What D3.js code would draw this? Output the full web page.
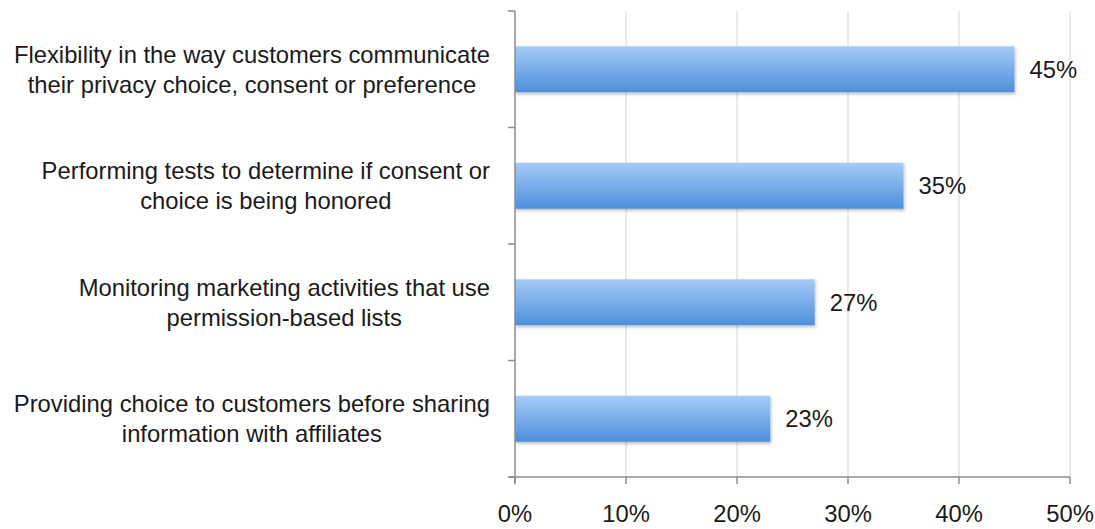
<!DOCTYPE html>
<html>
<head>
<meta charset="utf-8">
<script src="https://cdn.jsdelivr.net/npm/d3@7/dist/d3.min.js"></script>
<style>
  html, body { margin: 0; padding: 0; background: #fff; }
  svg { display: block; font-family: "Liberation Sans", Arial, sans-serif; }
</style>
</head>
<body>
<svg id="chart" width="1095" height="529"></svg>
<script>
// Survey responses (share of respondents)
const categories = [
  ["Flexibility in the way customers communicate", "their privacy choice, consent or preference"],
  ["Performing tests to determine if consent or", "choice is being honored"],
  ["Monitoring marketing activities that use", "permission-based lists"],
  ["Providing choice to customers before sharing", "information with affiliates"]
];
const values = [45, 35, 27, 23];
const valueLabels = ["45%", "35%", "27%", "23%"];
const tickValues = [0, 10, 20, 30, 40, 50];
const tickLabels = ["0%", "10%", "20%", "30%", "40%", "50%"];

const svg = d3.select("#chart");
const margin = { top: 11, right: 25, bottom: 52, left: 515 };
const W = 1095, H = 529;
const innerW = W - margin.left - margin.right;
const innerH = H - margin.top - margin.bottom;
const FONT = 23.8;

const x = d3.scaleLinear().domain([0, 50]).range([0, innerW]);
const yBand = d3.scaleBand().domain(d3.range(categories.length)).range([0, innerH]);

const defs = svg.append("defs");
const grad = defs.append("linearGradient").attr("id", "barGrad")
  .attr("x1", 0).attr("y1", 0).attr("x2", 0).attr("y2", 1);
grad.append("stop").attr("offset", "0%").attr("stop-color", "#a6cbf7");
grad.append("stop").attr("offset", "100%").attr("stop-color", "#4d8fdb");

const shadow = defs.append("filter").attr("id", "barShadow")
  .attr("x", "-5%").attr("y", "-20%").attr("width", "110%").attr("height", "150%");
shadow.append("feDropShadow").attr("dx", 1).attr("dy", 2).attr("stdDeviation", 1.5)
  .attr("flood-color", "#000").attr("flood-opacity", 0.25);

const g = svg.append("g").attr("transform", `translate(${margin.left},${margin.top})`);

// vertical gridlines
g.selectAll(".grid").data(tickValues.filter(d => d > 0)).enter().append("line")
  .attr("x1", d => x(d)).attr("x2", d => x(d))
  .attr("y1", 0).attr("y2", innerH)
  .attr("stroke", "#dcdcdc").attr("stroke-width", 1.2);

// bars
g.selectAll(".bar").data(values).enter().append("rect")
  .attr("x", 0)
  .attr("y", (d, i) => yBand(i) + yBand.bandwidth() / 2 - 23)
  .attr("width", d => x(d))
  .attr("height", 46)
  .attr("fill", "url(#barGrad)")
  .attr("filter", "url(#barShadow)");

// value labels
g.selectAll(".val").data(values).enter().append("text")
  .attr("x", d => x(d) + 15)
  .attr("y", (d, i) => yBand(i) + yBand.bandwidth() / 2)
  .attr("dy", "0.35em")
  .attr("font-size", FONT)
  .attr("fill", "#1a1a1a")
  .text((d, i) => valueLabels[i]);

// x axis
const xAxis = g.append("g").attr("transform", `translate(0,${innerH})`);
xAxis.append("line").attr("x1", -6).attr("x2", innerW).attr("y1", 0).attr("y2", 0)
  .attr("stroke", "#8c8c8c").attr("stroke-width", 1.5);
xAxis.selectAll(".tick").data(tickValues).enter().append("line")
  .attr("x1", d => x(d)).attr("x2", d => x(d)).attr("y1", 0).attr("y2", 7)
  .attr("stroke", "#8c8c8c").attr("stroke-width", 1.5);
xAxis.selectAll(".tl").data(tickValues).enter().append("text")
  .attr("x", d => x(d)).attr("y", 45)
  .attr("text-anchor", "middle")
  .attr("font-size", FONT)
  .attr("fill", "#1a1a1a")
  .text((d, i) => tickLabels[i]);

// y axis
const yAxis = g.append("g");
yAxis.append("line").attr("x1", 0).attr("x2", 0).attr("y1", 0).attr("y2", innerH + 7)
  .attr("stroke", "#8c8c8c").attr("stroke-width", 1.5);
yAxis.selectAll(".tick").data(d3.range(categories.length + 1)).enter().append("line")
  .attr("x1", -7).attr("x2", 0)
  .attr("y1", d => d * yBand.step()).attr("y2", d => d * yBand.step())
  .attr("stroke", "#8c8c8c").attr("stroke-width", 1.5);

// category labels: lines centred, block right-aligned against the axis
categories.forEach((lines, i) => {
  const cy = yBand(i) + yBand.bandwidth() / 2;
  const grp = g.append("g");
  const texts = lines.map((t, k) => grp.append("text")
    .attr("y", cy + (k - (lines.length - 1) / 2) * 30)
    .attr("dy", "0.35em")
    .attr("font-size", FONT)
    .attr("fill", "#1a1a1a")
    .attr("text-anchor", "middle")
    .text(t));
  const maxW = d3.max(texts, t => t.node().getComputedTextLength());
  texts.forEach(t => t.attr("x", -25 - maxW / 2));
});
</script>
</body>
</html>
